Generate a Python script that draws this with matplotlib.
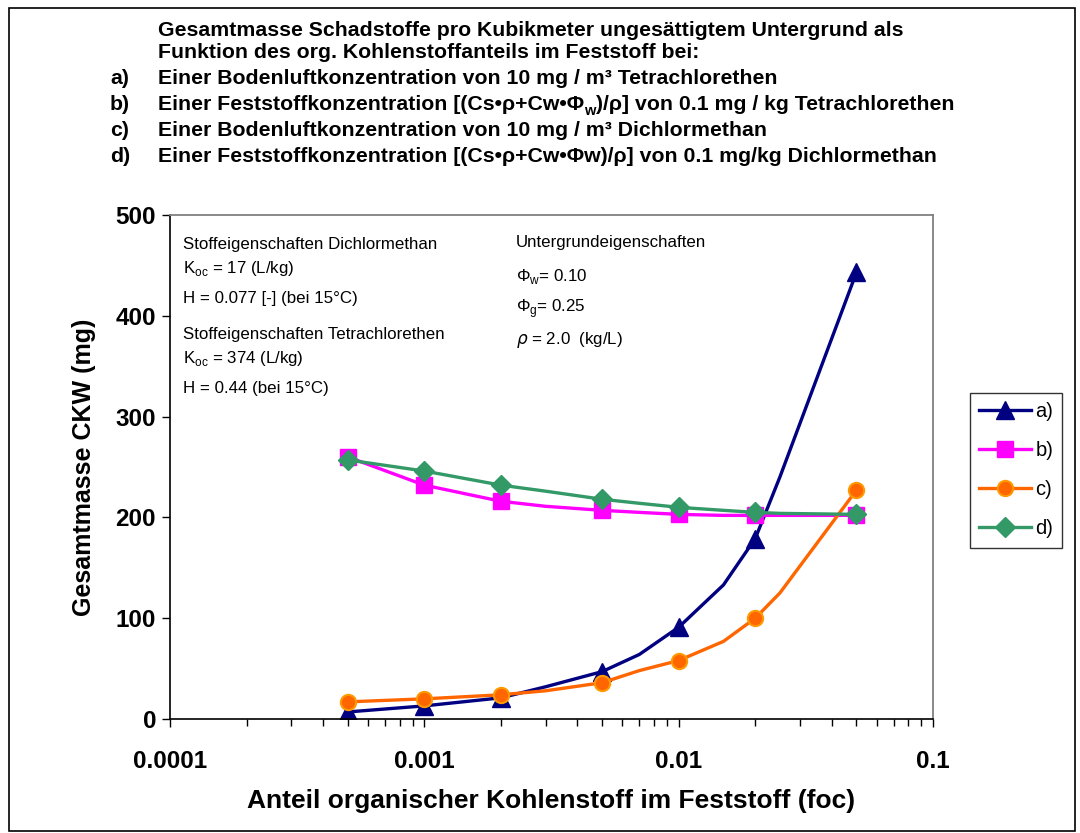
import numpy as np
import matplotlib
matplotlib.use("Agg")
import matplotlib.pyplot as plt
from matplotlib.patches import Rectangle

# foc values (line passes through all, markers only on some)
foc = [0.0005, 0.001, 0.002, 0.003, 0.005, 0.007, 0.01, 0.015, 0.02, 0.025, 0.05]
marker_idx = [0, 1, 2, 4, 6, 8, 10]

a_vals = [7, 13, 21, 32, 47, 64, 91, 133, 179, 240, 443]
b_vals = [260, 232, 216, 211, 207, 205, 203, 202, 202, 202, 202]
c_vals = [17, 20, 24, 28, 36, 48, 58, 77, 100, 125, 227]
d_vals = [257, 246, 232, 226, 218, 214, 210, 207, 205, 204, 203]

labels = ["a)", "b)", "c)", "d)"]

W, H = 1080, 833
fig = plt.figure(figsize=(W / 100, H / 100), dpi=100)
plt.rcParams['font.family'] = ['Liberation Sans', 'DejaVu Sans']

def fx(x):
    return x / W

def fy(y):
    return 1 - y / H

# outer frame
fig.patches.append(Rectangle((fx(9), fy(831)), fx(1075) - fx(9), fy(8) - fy(831),
                             transform=fig.transFigure, fill=False, lw=1.2, ec='black'))

# title block
tfont = dict(weight='bold', fontsize=15.3)
title_lines = [
    ("", "Gesamtmasse Schadstoffe pro Kubikmeter ungesättigtem Untergrund als"),
    ("", "Funktion des org. Kohlenstoffanteils im Feststoff bei:"),
    ("a)", "Einer Bodenluftkonzentration von 10 mg / m³ Tetrachlorethen"),
    ("b)", None),
    ("c)", "Einer Bodenluftkonzentration von 10 mg / m³ Dichlormethan"),
    ("d)", "Einer Feststoffkonzentration [(Cs•ρ+Cw•Φw)/ρ] von 0.1 mg/kg Dichlormethan"),
]
ys = [30, 53, 79, 104, 130, 156]
for (lab, txt), y in zip(title_lines, ys):
    if lab:
        fig.text(fx(110), fy(y), lab, va='center', ha='left', **tfont)
    if txt is not None:
        fig.text(fx(158), fy(y), txt, va='center', ha='left', **tfont)

# line b) with subscript w, built from pieces
t1 = fig.text(fx(158), fy(104), "Einer Feststoffkonzentration [(Cs•ρ+Cw•Φ",
              va='baseline', ha='left', **tfont)
t1.set_y(fy(104) - 6 / H)
t2 = fig.text(0, 0, "w", weight='bold', fontsize=10.5, va='baseline', ha='left')
t2.set_transform(matplotlib.transforms.offset_copy(fig.transFigure, fig=fig, x=0, y=0))
fig.canvas.draw()
bb = t1.get_window_extent()
t2.set_position((bb.x1 / fig.bbox.width, fy(104) - 11 / H))
fig.canvas.draw()
bb2 = t2.get_window_extent()
fig.text(bb2.x1 / fig.bbox.width, fy(104) - 6 / H,
         ")/ρ] von 0.1 mg / kg Tetrachlorethen", va='baseline', ha='left', **tfont)

ax = fig.add_axes([fx(170), fy(719), fx(933) - fx(170), fy(215) - fy(719)])

ax.plot(foc, a_vals, color='#000080', lw=2.4, marker='^', ms=13,
        markevery=marker_idx, label=labels[0])
ax.plot(foc, b_vals, color='#FF00FF', lw=2.4, marker='s', ms=11.5,
        markevery=marker_idx, label=labels[1])
ax.plot(foc, c_vals, color='#FF6600', lw=2.4, marker='o', ms=11, mfc='#FF6600',
        mec='#FF9900', mew=1.5, markevery=marker_idx, label=labels[2])
ax.plot(foc, d_vals, color='#339966', lw=2.4, marker='D', ms=10,
        markevery=marker_idx, label=labels[3])

ax.set_xscale('log')
ax.set_xlim(0.0001, 0.1)
ax.set_ylim(0, 500)
ax.set_yticks([0, 100, 200, 300, 400, 500])
ax.set_xticks([0.0001, 0.001, 0.01, 0.1])
ax.set_xticklabels(['0.0001', '0.001', '0.01', '0.1'])
ax.tick_params(axis='both', which='major', direction='out', length=6, width=1,
               labelsize=17.5)
ax.tick_params(axis='y', pad=4)
ax.tick_params(axis='x', pad=16)
ax.tick_params(axis='x', which='minor', direction='out', length=5, width=1)
for lbl in ax.get_xticklabels() + ax.get_yticklabels():
    lbl.set_fontweight('bold')

for s in ['top', 'right']:
    ax.spines[s].set_color('#808080')
    ax.spines[s].set_linewidth(1.3)
ax.spines['left'].set_linewidth(1.2)
ax.spines['bottom'].set_linewidth(1.2)

ax.set_ylabel('Gesamtmasse CKW (mg)', fontsize=18, fontweight='bold', labelpad=14)
ax.set_xlabel('Anteil organischer Kohlenstoff im Feststoff (foc)', fontsize=19,
              fontweight='bold', labelpad=12)

# annotations
afont = dict(fontsize=12.2, va='center', ha='left')
fig.text(fx(183), fy(245), 'Stoffeigenschaften Dichlormethan', **afont)
fig.text(fx(183), fy(268), 'K$_\\mathregular{oc}$ = 17 (L/kg)', **afont)
fig.text(fx(183), fy(299), 'H = 0.077 [-] (bei 15°C)', **afont)
fig.text(fx(183), fy(335), 'Stoffeigenschaften Tetrachlorethen', **afont)
fig.text(fx(183), fy(358), 'K$_\\mathregular{oc}$ = 374 (L/kg)', **afont)
fig.text(fx(183), fy(388), 'H = 0.44 (bei 15°C)', **afont)
fig.text(fx(516), fy(243), 'Untergrundeigenschaften', **afont)
fig.text(fx(516), fy(277), 'Φ$_\\mathregular{w}$= 0.10', **afont)
fig.text(fx(516), fy(309), 'Φ$_\\mathregular{g}$= 0.25', **afont)
fig.text(fx(516), fy(340), '$\\rho$ = 2.0  (kg/L)', **afont)

leg = fig.legend(loc='upper left', bbox_to_anchor=(fx(970), fy(393)), fontsize=14.5,
                 frameon=True, fancybox=False, edgecolor='black', handlelength=2.6,
                 handletextpad=0.2, labelspacing=1.0, borderpad=0.45,
                 borderaxespad=0)
leg.get_frame().set_linewidth(1.0)

fig.savefig('out.png', dpi=100)
